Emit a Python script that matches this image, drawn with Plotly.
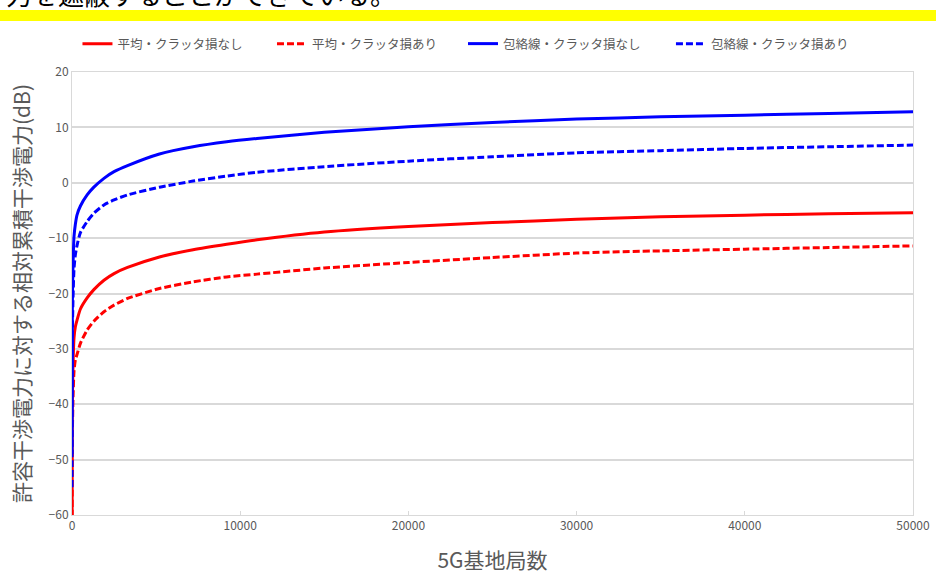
import plotly.graph_objects as go

# number of 5G base stations (x)
stations = [1, 20, 60, 120, 200, 300, 500, 900, 1300, 1900, 2500, 3300, 5200, 7200,
            9200, 11000, 15000, 20000, 25000, 30000, 35000, 40000, 45000, 50000]

# relative cumulative interference (dB)
avg_no_clutter = [-67, -40, -33, -28, -26, -24.8, -22.8, -20.8, -19.3, -17.6, -16.4, -15.3,
                  -13.4, -12.1, -11.1, -10.3, -8.9, -7.9, -7.2, -6.6, -6.15, -5.85, -5.6, -5.4]
avg_clutter = [-73, -46, -39, -34, -32, -31, -29, -26.6, -25.0, -23.3, -22.1, -20.9,
               -19.1, -17.9, -17.0, -16.5, -15.4, -14.4, -13.5, -12.7, -12.3, -12.0, -11.7, -11.4]
env_no_clutter = [-49, -22, -15, -9.7, -7.5, -5.8, -4.2, -2.2, -0.8, 0.8, 2.0, 3.1,
                  5.2, 6.5, 7.4, 8.0, 9.1, 10.1, 10.9, 11.5, 11.9, 12.2, 12.5, 12.8]
env_clutter = [-55, -28, -21, -15.5, -13, -11.3, -9.0, -7.0, -5.5, -4.0, -3.1, -2.2,
               -0.8, 0.3, 1.2, 1.9, 2.9, 3.9, 4.7, 5.4, 5.8, 6.2, 6.5, 6.8]

names = ['平均・クラッタ損なし', '平均・クラッタ損あり', '包絡線・クラッタ損なし', '包絡線・クラッタ損あり']
series = [avg_no_clutter, avg_clutter, env_no_clutter, env_clutter]
colors = ['#FF0000', '#FF0000', '#0000FF', '#0000FF']
dashes = ['solid', '7px,3px', 'solid', '7px,3px']
legend_ids = ['legend', 'legend2', 'legend3', 'legend4']
legend_x = [0.0065, 0.2378, 0.4649, 0.7122]   # one legend box per entry, like Excel's spacing

font = 'Noto Sans CJK JP'
grey = '#595959'

fig = go.Figure()
for name, ys, c, d, lg in zip(names, series, colors, dashes, legend_ids):
    fig.add_trace(go.Scatter(x=stations, y=ys, mode='lines', name=name, legend=lg,
                             line=dict(color=c, width=3, dash=d, shape='spline', smoothing=0.6)))

legends = {}
for lg, lx in zip(legend_ids, legend_x):
    legends[lg] = dict(orientation='h', x=lx, xanchor='left', y=1 + (72 - 44) / 443, yanchor='middle',
                       font=dict(size=12.5, color=grey), bgcolor='rgba(0,0,0,0)')

fig.update_layout(
    width=936, height=574,
    margin=dict(l=72, r=23, t=72, b=59, autoexpand=False),
    paper_bgcolor='white', plot_bgcolor='white',
    font=dict(family=font, color=grey, size=12),
    showlegend=True,
    **legends,
    xaxis=dict(range=[0, 50000], tickvals=[0, 10000, 20000, 30000, 40000, 50000], tickformat='d',
               showgrid=False, zeroline=False, showline=True, linecolor='#D9D9D9', mirror=True,
               ticks='inside', ticklen=4, tickcolor='#D9D9D9', tickfont=dict(size=12, color=grey),
               automargin=False,
               title=dict(text='5G基地局数', font=dict(size=21, color=grey), standoff=26)),
    yaxis=dict(range=[-60, 20], dtick=10, showgrid=True, gridcolor='#D9D9D9', gridwidth=1.5,
               zeroline=False, showline=True, linecolor='#D9D9D9', mirror=True,
               tickfont=dict(size=12, color=grey), ticks='', automargin=False,
               title=dict(text='許容干渉電力に対する相対累積干渉電力(dB)', font=dict(size=21, color=grey),
                          standoff=12)),
)

# yellow band and clipped caption at the top of the page
fig.add_shape(type='rect', xref='paper', yref='paper',
              x0=-72 / 841, x1=1 + 23 / 841, y0=1 + (72 - 21) / 443, y1=1 + (72 - 10) / 443,
              fillcolor='#FFFF00', line=dict(width=0), layer='below')
fig.add_annotation(text='力を遮蔽することができている。', xref='paper', yref='paper',
                   x=-68 / 841, xanchor='left', y=1 + (72 + 6) / 443, yanchor='middle',
                   showarrow=False, font=dict(size=26, color='black', family=font))

# drop the default 8px body margin so the figure sits at the page corner
fig.write_html("out.html", config={'displayModeBar': False},
               post_script="document.body.style.margin='0';")
